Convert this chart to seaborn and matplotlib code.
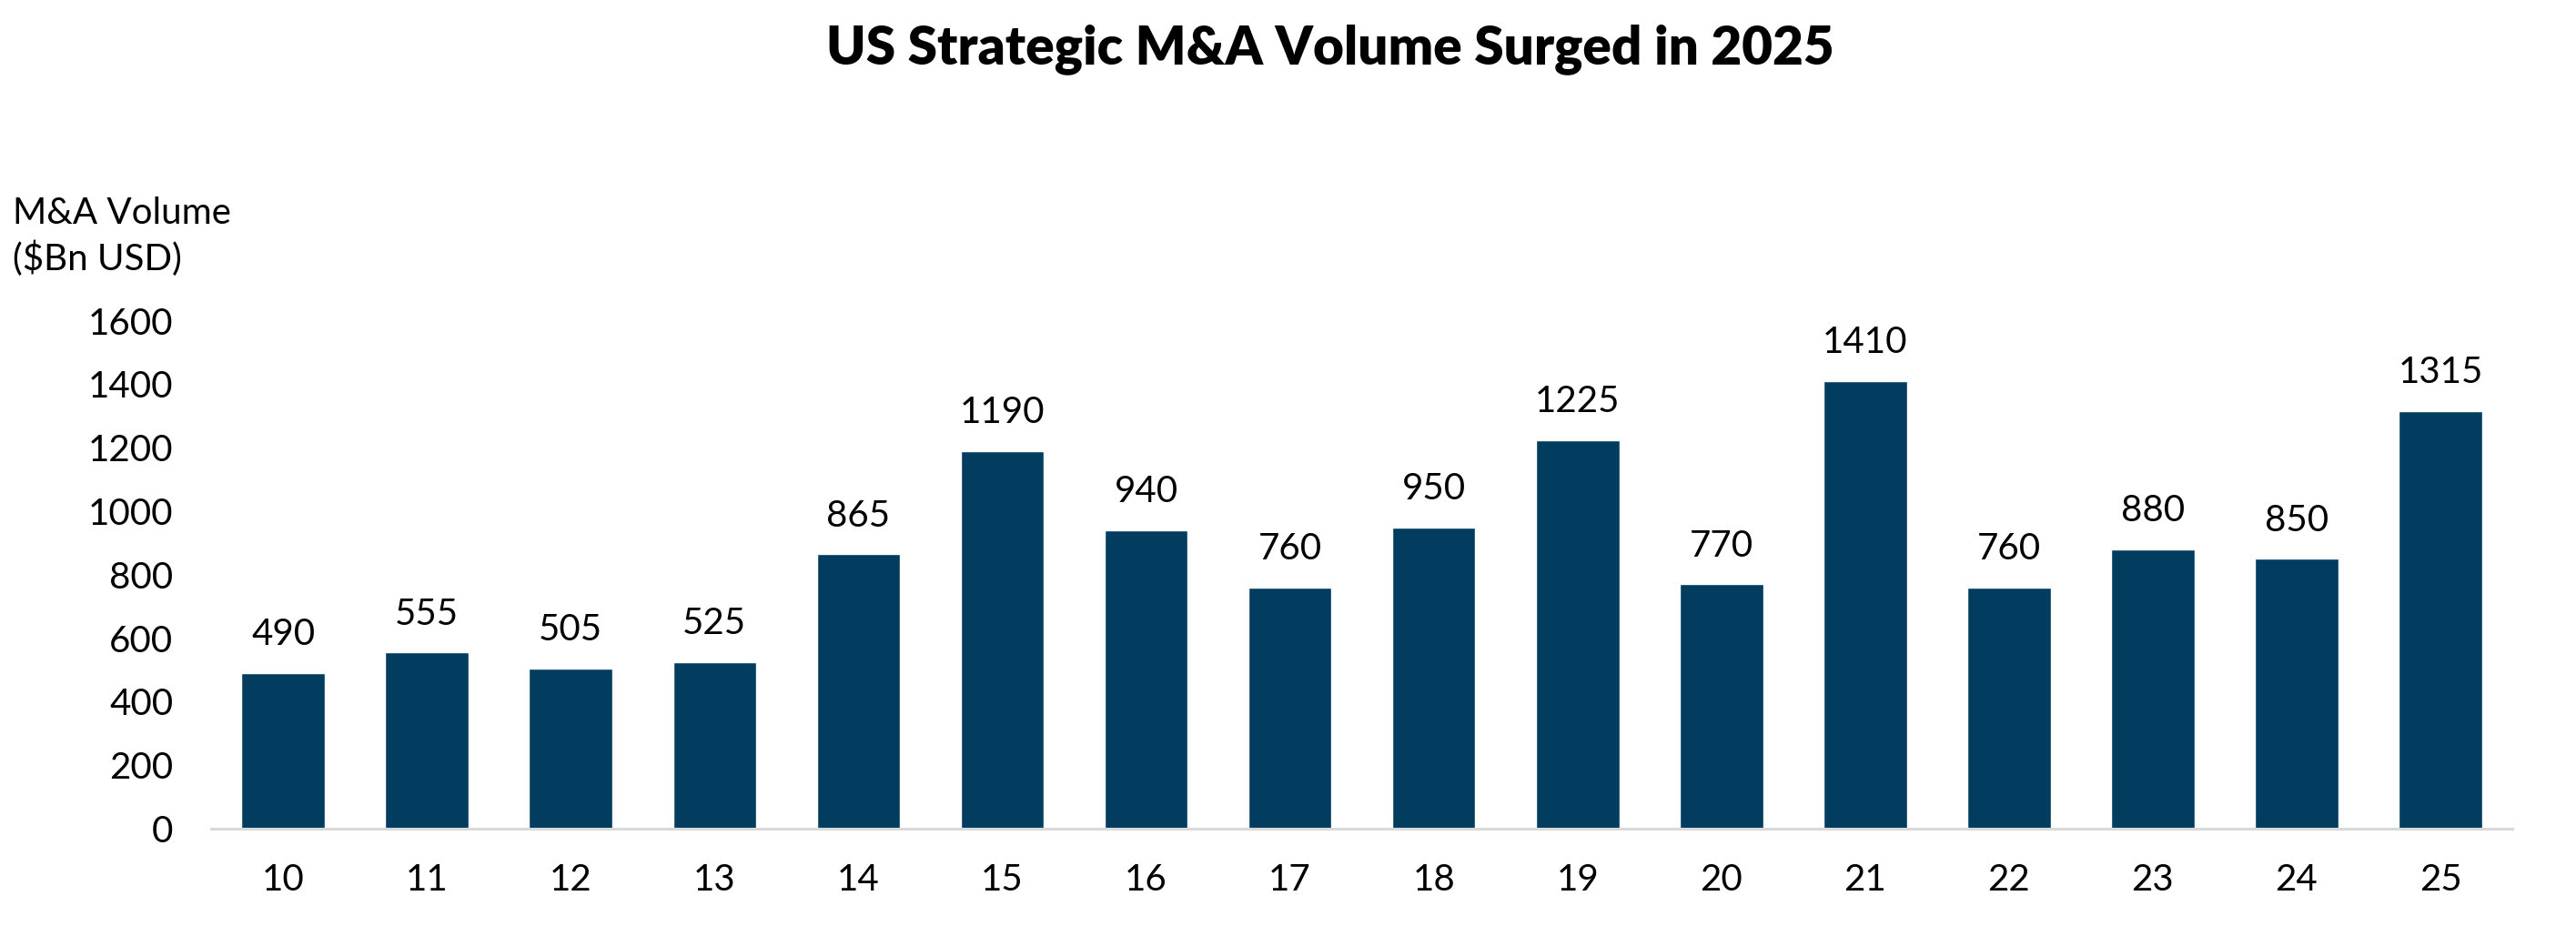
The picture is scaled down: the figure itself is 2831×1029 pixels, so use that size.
import matplotlib
matplotlib.use("Agg")
import matplotlib.pyplot as plt
import seaborn as sns
import pandas as pd

# data
years = ["10", "11", "12", "13", "14", "15", "16", "17",
         "18", "19", "20", "21", "22", "23", "24", "25"]
volume = [490, 555, 505, 525, 865, 1190, 940, 760,
          950, 1225, 770, 1410, 760, 880, 850, 1315]
y_ticks = [0, 200, 400, 600, 800, 1000, 1200, 1400, 1600]

bar_color = "#023D60"

sns.set_theme(style="white")
plt.rcParams["font.family"] = ["Lato", "DejaVu Sans"]
plt.rcParams["text.color"] = "black"

df = pd.DataFrame({"Year": years, "Volume": volume})

fig = plt.figure(figsize=(28.31, 10.29), dpi=100)
ax = fig.add_axes([0.082, 0.1146, 0.8933, 0.5427])

sns.barplot(data=df, x="Year", y="Volume", color=bar_color,
            saturation=1, width=0.58, ax=ax)

ax.bar_label(ax.containers[0], labels=[str(v) for v in volume],
             padding=17, fontsize=29, color="black")

ax.set_xlim(-0.5, len(years) - 0.5)
ax.set_ylim(0, 1600)
ax.set_yticks(y_ticks)
ax.set_yticklabels([str(t) for t in y_ticks])
ax.tick_params(axis="y", length=0, pad=30, labelsize=29, colors="black")
ax.tick_params(axis="x", length=0, pad=27, labelsize=29, colors="black")
ax.set_xlabel("")
ax.set_ylabel("")

for side in ["top", "right", "left"]:
    ax.spines[side].set_visible(False)
ax.spines["bottom"].set_color("#d9d9d9")
ax.spines["bottom"].set_linewidth(2.2)

fig.text(0.005, 0.747, "M&A Volume\n($Bn USD)", fontsize=29,
         ha="left", va="center", linespacing=1.35)
# title sits a bit right of the figure centre, roughly over the plot area
fig.text(0.5165, 0.947, "US Strategic M&A Volume Surged in 2025",
         fontsize=42, fontweight="heavy", ha="center", va="center")

fig.savefig("out.png", dpi=100)
